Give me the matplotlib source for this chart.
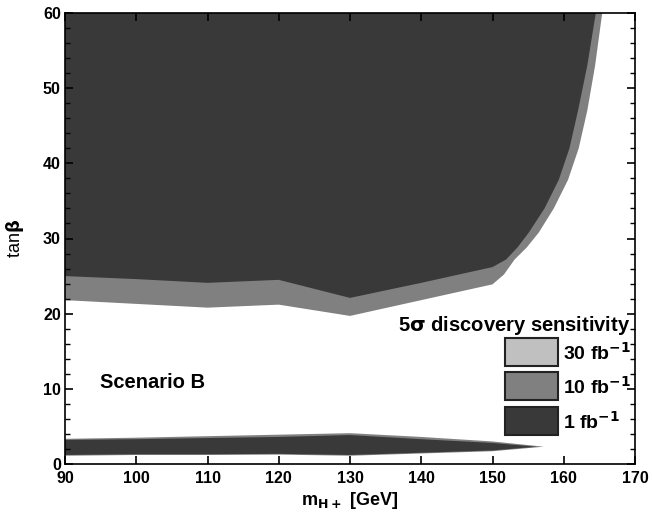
import matplotlib
matplotlib.use("Agg")
import matplotlib.pyplot as plt
from matplotlib.patches import Rectangle
from matplotlib.ticker import MultipleLocator

plt.rcParams['font.family'] = ['Liberation Sans', 'DejaVu Sans']
plt.rcParams['font.weight'] = 'bold'
plt.rcParams['mathtext.default'] = 'bf'

# 5 sigma discovery contours, upper (large tan beta) region
m_1fb = [90, 100, 110, 120, 130, 140, 150, 151.9, 153.5, 155.1, 157.3, 159.3, 160.8, 162.0, 163.3, 164.5]
tb_1fb = [25.0, 24.6, 24.1, 24.5, 22.1, 24.1, 26.2, 27.2, 28.8, 30.8, 34.0, 37.8, 42.0, 47.0, 53.0, 60.0]

m_10fb = [90, 100, 110, 120, 130, 140, 150, 151.6, 153.1, 154.8, 156.5, 158.6, 160.6, 162.1, 163.3, 164.4, 165.4]
tb_10fb = [21.8, 21.3, 20.8, 21.2, 19.7, 21.8, 23.9, 25.2, 27.2, 28.8, 30.8, 34.0, 37.8, 42.0, 47.0, 53.0, 60.0]

# low tan beta sliver (upper and lower edges)
m_low = [90, 100, 110, 120, 130, 140, 150, 156.2]
tb_low_hi_1fb = [3.2, 3.3, 3.45, 3.6, 3.85, 3.3, 2.8, 2.3]
tb_low_lo_1fb = [1.2, 1.3, 1.3, 1.35, 1.2, 1.5, 1.8, 2.3]
m_low10 = [90, 100, 110, 120, 130, 140, 150, 157.2]
tb_low_hi_10fb = [3.35, 3.5, 3.7, 3.9, 4.1, 3.6, 3.0, 2.3]
tb_low_lo_10fb = [1.1, 1.2, 1.2, 1.25, 1.1, 1.4, 1.7, 2.3]

lumi_labels = ["30 fb$^{-1}$", "10 fb$^{-1}$", "1 fb$^{-1}$"]
lumi_colors = ["#c0c0c0", "#808080", "#393939"]

fig = plt.figure(figsize=(6.52, 5.19), dpi=100)
ax = fig.add_axes([65/652, 55/519, 570/652, 451/519])

# 10 fb^-1 regions
ax.fill(m_10fb + [165.4, 90], tb_10fb + [60, 60], color=lumi_colors[1], lw=0)
ax.fill(m_low10 + m_low10[::-1], tb_low_hi_10fb + tb_low_lo_10fb[::-1], color=lumi_colors[1], lw=0)
# 1 fb^-1 regions
ax.fill(m_1fb + [164.5, 90], tb_1fb + [60, 60], color=lumi_colors[2], lw=0)
ax.fill(m_low + m_low[::-1], tb_low_hi_1fb + tb_low_lo_1fb[::-1], color=lumi_colors[2], lw=0)

ax.set_xlim(90, 170)
ax.set_ylim(0, 60)
ax.xaxis.set_major_locator(MultipleLocator(10))
ax.yaxis.set_major_locator(MultipleLocator(10))
ax.yaxis.set_minor_locator(MultipleLocator(2))
ax.tick_params(which='both', direction='in', top=True, right=True, labelsize=11.5)
ax.tick_params(axis='x', pad=5)
ax.tick_params(axis='y', pad=3)
ax.tick_params(which='major', length=6, width=1.2)
ax.tick_params(which='minor', length=3.5, width=1.0)
for sp in ax.spines.values():
    sp.set_linewidth(1.2)
ax.set_axisbelow(False)

ax.set_xlabel("m$_{\\mathbf{H+}}$ [GeV]", fontsize=13, fontweight='bold', labelpad=3)
ax.set_ylabel("tan$\\mathbf{\\beta}$", fontsize=13, labelpad=12)

ax.text(0.062, 0.18, "Scenario B", transform=ax.transAxes, fontsize=14.5, fontweight='bold',
        va='center', ha='left')

# legend
ax.text(0.992, 0.308, "5$\\mathbf{\\sigma}$ discovery sensitivity", transform=ax.transAxes,
        fontsize=14.5, fontweight='bold', ha='right', va='center')
box_tops = [338, 372, 407]
for top, lab, col in zip(box_tops, lumi_labels, lumi_colors):
    y0 = (464 - (top + 27.5)) / 451
    ax.add_patch(Rectangle((0.772, y0), 0.093, 27.5 / 451, transform=ax.transAxes,
                           facecolor=col, edgecolor='#222222', lw=1.5, zorder=5))
    ax.text(0.874, y0 + 0.027, lab, transform=ax.transAxes, fontsize=14, fontweight='bold',
            ha='left', va='center', zorder=5)

fig.savefig("out.png", dpi=100)
